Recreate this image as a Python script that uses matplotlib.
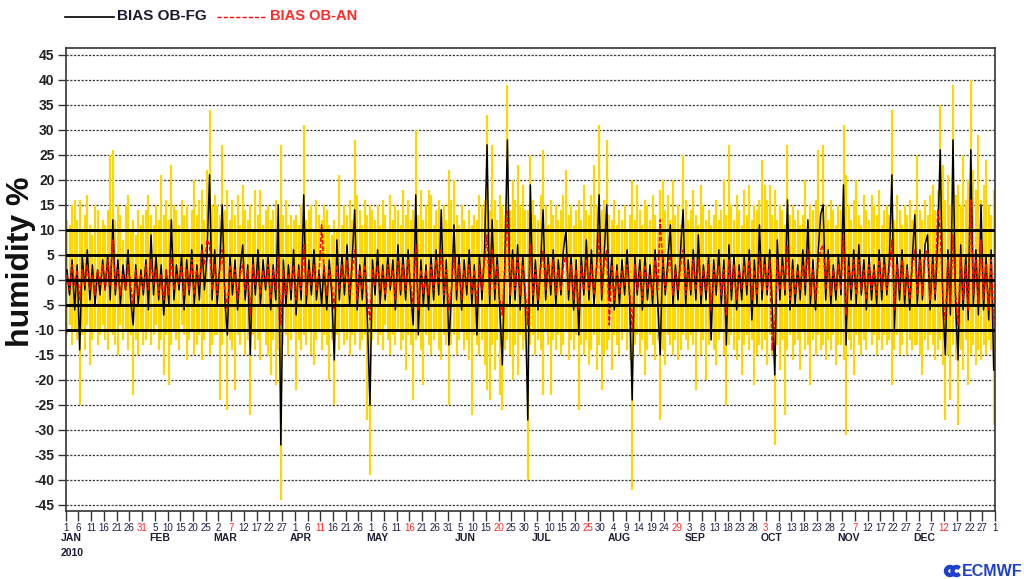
import datetime as dt

import numpy as np
import matplotlib
matplotlib.use("Agg")
import matplotlib.pyplot as plt
from matplotlib.lines import Line2D
from matplotlib.patches import Wedge
from matplotlib.transforms import blended_transform_factory

plt.rcParams["font.family"] = ["Liberation Sans", "DejaVu Sans"]

START = dt.date(2010, 1, 1)

# Daily upper / lower extent of the departures (yellow band), % relative humidity
yellow_hi = [
    12, 11, 15, 16, 12, 16, 10, 13, 17, 11, 9, 15, 14, 10, 12, 11, 14, 25, 26, 12, 15, 13, 8, 15, 17, 10, 12, 9, 14, 11, 13,
    14, 17, 13, 11, 15, 12, 21, 13, 16, 12, 23, 15, 14, 11, 16, 13, 15, 10, 14, 20, 13, 16, 18, 12, 22, 34, 15, 17,
    15, 13, 27, 14, 18, 12, 16, 13, 17, 11, 19, 14, 12, 15, 10, 18, 13, 18, 11, 14, 15, 12, 14, 16, 10, 27, 13, 16, 11, 13, 12,
    13, 11, 15, 31, 12, 14, 15, 10, 16, 13, 12, 15, 14, 11, 9, 12, 10, 21, 11, 15, 13, 16, 12, 28, 17, 14, 11, 16, 13, 15,
    14, 12, 15, 11, 16, 13, 10, 17, 12, 15, 14, 11, 18, 13, 16, 12, 14, 30, 13, 18, 12, 15, 18, 17, 11, 14, 16, 13, 15, 12, 22,
    16, 20, 13, 11, 15, 12, 10, 14, 11, 13, 12, 17, 15, 16, 33, 14, 27, 16, 12, 17, 15, 13, 39, 14, 20, 16, 23, 15, 19, 14,
    14, 25, 16, 13, 12, 17, 26, 15, 11, 16, 13, 15, 12, 14, 17, 22, 13, 15, 11, 14, 16, 12, 19, 14, 13, 17, 23, 15, 31, 14, 16,
    28, 13, 12, 16, 11, 14, 12, 15, 10, 13, 20, 12, 19, 14, 11, 16, 15, 12, 17, 13, 10, 18, 20, 14, 17, 12, 20, 13, 15, 11, 25,
    16, 12, 14, 18, 13, 11, 19, 15, 12, 14, 11, 13, 16, 12, 14, 20, 13, 27, 15, 12, 17, 14, 11, 18, 13, 19, 12, 15, 14, 16,
    24, 19, 16, 19, 13, 18, 12, 15, 14, 11, 27, 13, 15, 12, 14, 11, 13, 20, 12, 15, 14, 16, 26, 13, 27, 15, 12, 16, 14, 11, 15,
    14, 31, 21, 15, 12, 16, 20, 13, 11, 17, 14, 12, 17, 15, 13, 18, 11, 14, 15, 13, 34, 12, 17, 14, 11, 15, 13, 16, 12, 14,
    25, 14, 12, 16, 13, 17, 19, 14, 18, 35, 23, 16, 21, 15, 39, 17, 19, 15, 25, 16, 20, 40, 22, 18, 29, 16, 19, 24, 15, 13, 18,
]
yellow_lo = [
    -11, -9, -13, -10, -12, -25, -11, -14, -9, -17, -12, -10, -13, -11, -9, -12, -14, -10, -11, -13, -15, -9, -12, -10, -14, -11, -23, -12, -15, -10, -13,
    -12, -10, -13, -11, -9, -14, -12, -19, -11, -21, -13, -10, -12, -14, -9, -11, -16, -12, -10, -15, -13, -11, -16, -12, -10, -15, -13, -11,
    -11, -24, -13, -10, -26, -12, -14, -22, -11, -13, -10, -15, -12, -27, -11, -14, -12, -16, -10, -13, -15, -19, -12, -21, -14, -44, -13, -11, -15, -12, -10,
    -22, -12, -14, -11, -13, -10, -15, -17, -12, -10, -14, -11, -13, -20, -12, -25, -11, -14, -10, -13, -12, -15, -11, -13, -10, -14, -12, -11, -28, -39,
    -12, -10, -13, -11, -14, -9, -12, -15, -11, -13, -10, -14, -12, -18, -11, -13, -24, -12, -10, -14, -21, -11, -13, -15, -12, -10, -14, -16, -11, -13, -25,
    -13, -11, -15, -12, -10, -14, -12, -16, -27, -11, -13, -15, -12, -17, -22, -24, -13, -18, -12, -23, -26, -14, -12, -15, -20, -13, -19, -11, -14, -12,
    -40, -13, -11, -15, -12, -14, -23, -10, -13, -23, -12, -14, -11, -15, -13, -10, -16, -12, -14, -11, -26, -13, -15, -12, -17, -14, -11, -18, -13, -22, -15,
    -14, -12, -18, -11, -13, -15, -12, -10, -14, -16, -42, -13, -11, -15, -12, -19, -14, -11, -13, -16, -12, -28, -14, -17, -11, -13, -15, -12, -16, -14, -11,
    -12, -14, -11, -13, -22, -10, -15, -12, -20, -13, -11, -14, -17, -12, -10, -15, -25, -13, -11, -14, -16, -12, -19, -13, -11, -14, -12, -21, -15, -13,
    -14, -12, -17, -11, -15, -33, -13, -18, -12, -27, -14, -11, -16, -13, -12, -18, -10, -14, -13, -21, -12, -15, -11, -14, -13, -16, -12, -14, -11, -17, -13,
    -13, -16, -31, -12, -14, -19, -11, -13, -15, -12, -14, -10, -13, -11, -15, -12, -14, -11, -13, -12, -21, -14, -11, -15, -13, -10, -15, -12, -14, -13,
    -13, -15, -19, -12, -14, -11, -13, -16, -14, -12, -17, -28, -15, -24, -13, -16, -29, -14, -18, -12, -21, -15, -13, -17, -14, -16, -13, -15, -12, -14, -29,
]
# Daily bias, observation minus first guess
bias_ob_fg = [
    2, -3, 4, -6, 3, -14, 5, -2, 6, -4, 3, -5, 2, -3, 4, -2, 5, -4, 12, -3, 4, -5, 3, -2, 6, -4, -9, 3, -5, 2, -3,
    4, -6, 9, -3, 5, -4, 3, -7, 2, -5, 12, -4, 3, -2, 5, -6, 4, -3, 6, -5, 3, -4, 7, -2, 5, 21, -4, 6,
    -5, 3, 15, -4, -11, 5, -3, 4, -6, 2, 7, -4, 3, -15, 5, -3, 6, -5, 4, -2, 5, -6, 3, -4, 15, -33, 4, -5, 3, -4, 6,
    -7, 3, -4, 17, -5, 4, -3, 6, -4, 2, -5, 3, -6, 4, -3, -16, 8, -4, 5, -3, 7, -5, 4, 14, -6, 3, -4, 5, -8, -25,
    4, -3, 6, -5, 3, -4, 5, -2, 4, -6, 7, -3, 5, -4, 6, -3, -9, 17, -11, 4, -5, 3, -6, 5, -4, 6, -3, 14, -5, 4, -13,
    -3, 11, -4, 5, -6, 4, -3, 6, -5, 3, -11, 5, -4, 6, 27, -5, 12, -4, 5, -6, -17, 4, 28, -5, 6, -4, 7, -6, 5, -4,
    -28, 19, -5, 4, -6, 3, 14, -4, 5, -3, 6, -5, 4, -3, 6, 10, -4, 5, -6, 4, -11, 5, -3, 8, -4, 6, -5, 3, 17, -4, 5,
    15, -4, 5, -6, 3, -5, 4, -3, 6, -4, -24, 5, -3, 4, -6, 5, -4, 3, -5, 6, -4, -15, 5, -3, 4, 11, -5, 3, -4, 6, 14,
    -5, 4, -3, 6, -4, 9, -5, 3, -4, 5, -12, 4, -3, 6, -5, 4, -13, 7, -4, 5, -6, 3, -4, 5, -3, 6, -8, 4, -5, 11,
    -4, 5, -3, 6, -5, -19, 8, -4, 5, -3, 16, -6, 4, -5, 3, -4, 6, -3, 12, -5, 4, -6, 5, 13, 15, -4, 6, -5, 3, -4, 5,
    -3, 19, -13, 5, -4, 6, -5, 7, -3, 4, -6, 5, -4, 3, -5, 6, -4, 5, -3, 4, 21, -10, 5, -4, 6, -5, 3, -6, 4, 13,
    -5, 6, -4, 7, 9, -6, 5, -4, 8, 26, -5, -15, 6, -7, 28, -5, -16, 7, -6, 5, -8, 26, -5, 6, -7, 15, -6, 5, -8, 6, -18,
]
# Daily bias, observation minus analysis
bias_ob_an = [
    1, -2, 3, -1, 2, -4, 2, -1, 3, -2, 1, -3, 2, -1, 3, -2, 4, -1, 8, -2, 2, -3, 1, -2, 3, -1, -5, 2, -3, 1, -2,
    3, -2, 4, -1, 2, -3, 1, -4, 2, -3, 5, -2, 1, -1, 3, -3, 2, -2, 4, -3, 2, -1, 6, 3, 8, 7, -2, 3,
    -3, 2, 6, -2, -6, 3, -1, 2, -4, 1, 3, -2, 2, -7, 3, -1, 2, -3, 2, -1, 3, -4, 2, -2, 5, -9, 2, -3, 1, -2, 3,
    -4, 2, -2, 7, -3, 2, -1, 3, -2, 1, 11, 2, -3, 2, -1, -6, 3, -2, 3, -1, 4, -3, 2, 6, -4, 2, -2, 3, -4, -8,
    2, -1, 3, -2, 2, -3, 3, -1, 2, -4, 4, -2, 3, -2, 4, -1, -5, 7, -6, 2, -3, 2, -3, 3, -2, 4, -1, 6, -3, 2, -6,
    -2, 5, -2, 3, -4, 2, -1, 3, -3, 2, -5, 3, -2, 4, 9, -3, 6, -2, 3, -4, -7, 3, 14, -3, 4, -2, 5, -3, 3, -2,
    -9, 7, -3, 2, -4, 2, 6, -2, 3, -1, 4, -3, 2, -2, 3, 5, -2, 3, -4, 2, -6, 3, -2, 4, -2, 3, -3, 2, 9, -3, 3,
    6, -9, 3, -4, 2, -3, 2, -1, 3, -2, -10, 3, -2, 2, -4, 3, -2, 1, -3, 4, -2, 12, 3, -2, 2, 5, -3, 2, -2, 3, 6,
    -3, 2, -2, 4, -2, 4, -3, 2, -2, 3, -6, 2, -1, 3, -3, 2, -7, 4, -2, 3, -4, 2, -2, 3, -1, 4, -4, 2, -3, 5,
    -2, 3, -2, 4, -14, -9, 4, -2, 3, -2, 7, -4, 2, -3, 2, -2, 3, -1, 6, -3, 2, -4, 3, 6, 7, -2, 4, -3, 2, -2, 3,
    -2, 9, -7, 3, -2, 4, -3, 4, -2, 2, -4, 3, -2, 2, -3, 4, -2, 3, -2, 2, 8, -6, 3, -2, 4, -3, 2, -4, 3, 6,
    -3, 4, -3, 5, 6, -4, 3, -3, 14, 10, -4, -8, 4, -5, 9, -3, -9, 5, -4, 3, -6, 16, -3, 4, -5, 8, -4, 3, -6, 4, -9,
]

month_names = ["JAN", "FEB", "MAR", "APR", "MAY", "JUN", "JUL", "AUG", "SEP", "OCT", "NOV", "DEC"]
ref_lines = [-10, -5, 0, 5, 10]

W, H = 1024, 579
fig = plt.figure(figsize=(W / 100, H / 100), dpi=100)
ax = fig.add_axes([65.7 / W, 1 - 511 / H, (995 - 65.7) / W, (511 - 48.3) / H])

xb = np.arange(len(yellow_hi)) + 0.5
ax.vlines(xb, yellow_lo, yellow_hi, color="#ffd700", lw=1.55, zorder=2)
ax.plot(np.arange(len(bias_ob_fg)) + 0.5, bias_ob_fg, color="black", lw=1.1, zorder=3)
ax.plot(np.arange(len(bias_ob_an)) + 0.5, bias_ob_an, color="#ff0000", lw=1.1,
        ls=(0, (3, 1.2)), zorder=4)

for v in range(-45, 50, 5):
    ax.axhline(v, color="#3a3a3a", lw=0.9, ls=(0, (1.8, 1.2)), zorder=1)
for v in ref_lines:
    ax.axhline(v, color="black", lw=2.1, zorder=5)

ndays = (dt.date(2011, 1, 1) - START).days
ax.set_xlim(0, ndays)
ax.set_ylim(-46.2, 46.3)

ax.set_yticks(range(-45, 50, 5))
ax.set_yticklabels([str(v) for v in range(-45, 50, 5)], fontsize=10, fontweight="bold")

xt = np.arange(0, ndays + 1, 5)
ax.set_xticks(xt)
ax.set_xticklabels([str((START + dt.timedelta(days=int(d))).day) for d in xt], fontsize=7)

ax.tick_params(axis="x", direction="out", length=7, width=1, pad=1.5, colors="#333333",
               labelcolor="#1c1c44")
ax.tick_params(axis="y", direction="out", length=6, width=1, pad=2, colors="#333333",
               labelcolor="#222222")
# every fifth week is printed in red
for d, lab in zip(xt, ax.get_xticklabels()):
    if d >= 30 and (d - 30) % 35 == 0:
        lab.set_color("#ff2a2a")
for s in ax.spines.values():
    s.set_color("#333333")
    s.set_linewidth(1.2)

# Month names under the first day tick of each month
tr = blended_transform_factory(ax.transData, fig.transFigure)
for m, name in enumerate(month_names):
    first = (dt.date(2010, m + 1, 1) - START).days
    tick = int(np.ceil(first / 5.0) * 5)
    ax.text(tick - 2.0, 1 - 538 / H, name, transform=tr, fontsize=7.5, fontweight="bold",
            color="#1c1c33", ha="left", va="center")
ax.text(-2.0, 1 - 553 / H, "2010", transform=tr, fontsize=7.5, fontweight="bold",
        color="#1c1c33", ha="left", va="center")

fig.text(21 / W, 1 - 262 / H, "humidity %", rotation=90, fontsize=23, fontweight="bold",
         ha="center", va="center", color="#111111")

# Legend across the top
ly = 1 - 16.5 / H
fig.add_artist(Line2D([65 / W, 114 / W], [ly, ly], color="black", lw=1.2))
fig.text(117 / W, ly, "BIAS OB-FG", fontsize=11, fontweight="bold", color="#1a1a2e",
         ha="left", va="center")
fig.add_artist(Line2D([217 / W, 266 / W], [ly, ly], color="#ff0000", lw=1.0,
                      ls=(0, (3, 1.5))))
fig.text(270 / W, ly, "BIAS OB-AN", fontsize=10.5, fontweight="bold", color="#ff2a2a",
         ha="left", va="center")

# Centre logo: two open rings followed by the name
logo_blue = "#1f3fcf"
cy = (H - 571) / 100
for cx in (9.50, 9.565):
    fig.add_artist(Wedge((cx, cy), 0.055, 50, 310, width=0.03, color=logo_blue,
                         transform=fig.dpi_scale_trans))
fig.text(962 / W, 1 - 571 / H, "ECMWF", fontsize=11.5, fontweight="bold", color=logo_blue,
         ha="left", va="center")

fig.savefig("out.png", dpi=100)
